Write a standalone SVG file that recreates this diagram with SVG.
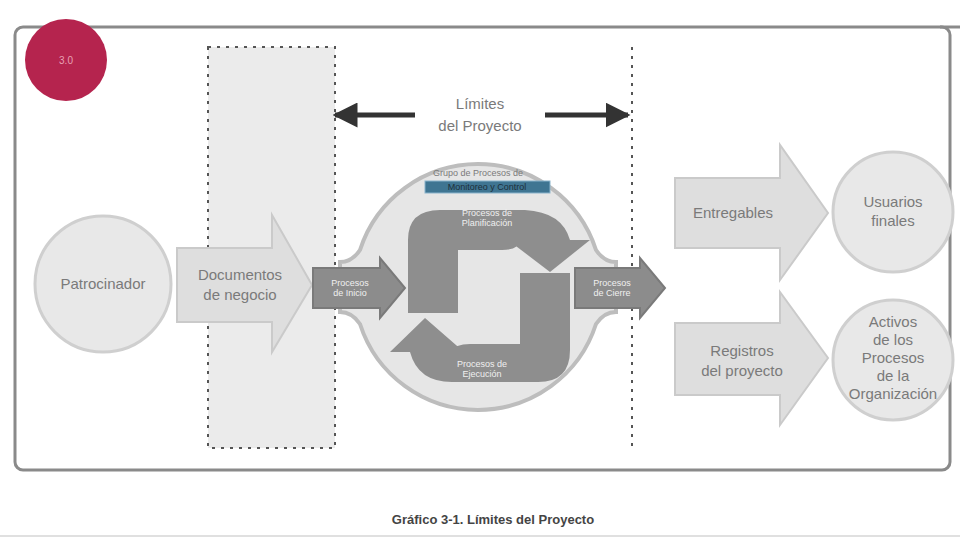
<svg xmlns="http://www.w3.org/2000/svg" width="960" height="540" viewBox="0 0 960 540">
<style>
.t{font-family:"Liberation Sans",Arial,sans-serif;fill:#7a7a7a;text-anchor:middle}
.big{font-size:15px}
.sm{font-size:9px}
.w{fill:#f0f0f0}
.node{fill:#e8e8e8;stroke:#cfcfcf;stroke-width:3}
.arr{fill:#dedede;stroke:#cacaca;stroke-width:2}
.dark{fill:#8c8c8c;stroke:#7a7a7a;stroke-width:2}
.cyc{fill:#8e8e8e}
</style>
<defs>
<marker id="ah" viewBox="0 0 10 10" refX="9" refY="5" markerWidth="5" markerHeight="5" orient="auto-start-reverse">
<path d="M0,0 L10,5 L0,10 Z" fill="#333"/>
</marker>
</defs>
<rect width="960" height="540" fill="#ffffff"/>
<rect x="15" y="27" width="935" height="443" rx="8" fill="none" stroke="#8a8a8a" stroke-width="3"/>
<line x1="940" y1="27" x2="960" y2="27" stroke="#8a8a8a" stroke-width="3"/>
<line x1="0" y1="536" x2="960" y2="536" stroke="#e0e0e0" stroke-width="2"/>
<g id="boundary">
<rect x="208" y="47" width="127" height="401" fill="#ebebeb" stroke="#555" stroke-width="2" stroke-dasharray="3,6"/>
<line x1="632" y1="47" x2="632" y2="448" stroke="#555" stroke-width="2" stroke-dasharray="3,6"/>
</g>
<g id="connectors">
<line x1="335" y1="115" x2="415" y2="115" stroke="#333" stroke-width="5" marker-start="url(#ah)"/>
<line x1="545" y1="115" x2="628" y2="115" stroke="#333" stroke-width="5" marker-end="url(#ah)"/>
</g>
<g id="limites-label">
<text class="t big" x="480" y="109">Límites</text>
<text class="t big" x="480" y="131">del Proyecto</text>
</g>
<g id="badge">
<circle cx="66" cy="60" r="41" fill="#b5244e"/>
<text x="66" y="64" font-family="Liberation Sans, Arial, sans-serif" font-size="10" fill="#e8a0b4" text-anchor="middle">3.0</text>
</g>
<g id="patrocinador">
<circle class="node" cx="103" cy="284" r="68"/>
<text class="t big" x="103" y="289">Patrocinador</text>
</g>
<g id="documentos">
<path class="arr" d="M177,248 L272,248 L272,215 L312,285 L272,352 L272,322 L177,322 Z"/>
<text class="t big" x="240" y="280">Documentos</text>
<text class="t big" x="240" y="300">de negocio</text>
</g>
<g id="ciclo">
<path d="M340,262 Q352,262 360,250 A124,124 0 0 1 596,250 Q604,262 616,262 L616,312 Q604,312 596,324 A124,124 0 0 1 360,324 Q352,312 340,312 Z" fill="#e6e6e6" stroke="#bdbdbd" stroke-width="4"/>
<path class="cyc" d="M408,313 L408,240 Q408,210 440,210 L525,210 Q562,212 570,240 L590,240 L550,272 L508,240 L522,240 Q518,250 502,250 L458,250 L458,313 Z"/>
<path class="cyc" d="M570,273 L570,350 Q570,382 538,382 L452,382 Q418,382 410,352 L390,352 L425,318 L464,352 L450,352 Q455,344 470,344 L520,344 L520,273 Z"/>
<text class="t sm" x="478" y="176" fill="#666">Grupo de Procesos de</text>
<rect x="425" y="181" width="125" height="12" fill="#3f7592" stroke="#8ab4cc" stroke-width="1"/>
<text x="487" y="190" font-family="Liberation Sans, Arial, sans-serif" font-size="9" fill="#1d2f3a" text-anchor="middle">Monitoreo y Control</text>
<text class="t sm w" x="487" y="216">Procesos de</text>
<text class="t sm w" x="487" y="226">Planificación</text>
<text class="t sm w" x="482" y="367">Procesos de</text>
<text class="t sm w" x="482" y="377">Ejecución</text>
</g>
<g id="inicio">
<path class="dark" d="M313,268 L380,268 L380,258 L405,288 L380,318 L380,308 L313,308 Z"/>
<text class="t sm w" x="350" y="286">Procesos</text>
<text class="t sm w" x="350" y="296">de Inicio</text>
</g>
<g id="cierre">
<path class="dark" d="M575,268 L640,268 L640,258 L665,288 L640,318 L640,308 L575,308 Z"/>
<text class="t sm w" x="612" y="286">Procesos</text>
<text class="t sm w" x="612" y="296">de Cierre</text>
</g>
<g id="entregables">
<path class="arr" d="M675,178 L780,178 L780,145 L828,213 L780,280 L780,248 L675,248 Z"/>
<text class="t big" x="733" y="218">Entregables</text>
</g>
<g id="usuarios">
<circle class="node" cx="893" cy="212" r="60"/>
<text class="t big" x="893" y="207">Usuarios</text>
<text class="t big" x="893" y="226">finales</text>
</g>
<g id="registros">
<path class="arr" d="M675,323 L780,323 L780,292 L828,358 L780,425 L780,395 L675,395 Z"/>
<text class="t big" x="742" y="356">Registros</text>
<text class="t big" x="742" y="376">del proyecto</text>
</g>
<g id="activos">
<circle class="node" cx="893" cy="360" r="60"/>
<text class="t big" x="893" y="327">Activos</text>
<text class="t big" x="893" y="345">de los</text>
<text class="t big" x="893" y="363">Procesos</text>
<text class="t big" x="893" y="381">de la</text>
<text class="t big" x="893" y="399">Organización</text>
</g>
<text x="493" y="524" font-family="Liberation Sans, Arial, sans-serif" font-size="13" font-weight="bold" fill="#444" text-anchor="middle">Gráfico 3-1. Límites del Proyecto</text>
</svg>
